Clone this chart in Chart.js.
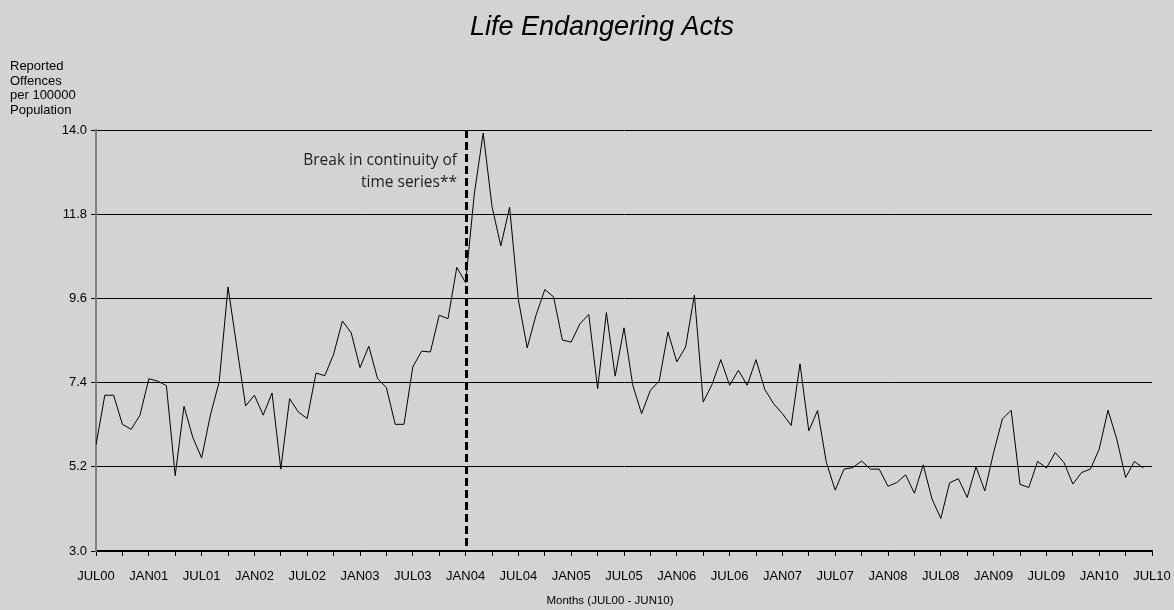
<!DOCTYPE html>
<html>
<head>
<meta charset="utf-8">
<title>Life Endangering Acts</title>
<script src="https://cdn.jsdelivr.net/npm/chart.js@4/dist/chart.umd.min.js"></script>
<style>
  html, body { margin: 0; padding: 0; background: #d3d3d3; }
  #wrap { width: 1174px; height: 610px; }
</style>
</head>
<body>
<div id="wrap"><canvas id="lifeChart" width="1174" height="610"></canvas></div>
<script>
// monthly rates, JUL00 .. JUN10
const rates = [
  5.77, 7.07, 7.07, 6.31, 6.18, 6.55, 7.50, 7.44, 7.32, 4.97, 6.78, 5.97,
  5.43, 6.55, 7.42, 9.90, 8.33, 6.79, 7.07, 6.55, 7.13, 5.14, 6.98, 6.63,
  6.46, 7.65, 7.58, 8.14, 9.01, 8.70, 7.79, 8.35, 7.50, 7.27, 6.31, 6.31,
  7.81, 8.22, 8.20, 9.16, 9.07, 10.41, 10.01, 12.35, 13.92, 12.00, 10.97, 11.98,
  9.56, 8.31, 9.16, 9.83, 9.64, 8.51, 8.46, 8.94, 9.18, 7.24, 9.23, 7.57,
  8.83, 7.33, 6.59, 7.20, 7.44, 8.72, 7.94, 8.33, 9.69, 6.89, 7.35, 8.00,
  7.33, 7.72, 7.33, 8.00, 7.22, 6.85, 6.59, 6.28, 7.89, 6.14, 6.67, 5.31,
  4.59, 5.14, 5.18, 5.35, 5.14, 5.14, 4.69, 4.79, 4.99, 4.51, 5.25, 4.36,
  3.85, 4.78, 4.89, 4.40, 5.20, 4.57, 5.57, 6.45, 6.68, 4.74, 4.66, 5.34,
  5.17, 5.57, 5.31, 4.75, 5.05, 5.14, 5.66, 6.68, 5.92, 4.92, 5.34, 5.17
];
const tickLabels = ['JUL00','JAN01','JUL01','JAN02','JUL02','JAN03','JUL03','JAN04','JUL04','JAN05','JUL05',
  'JAN06','JUL06','JAN07','JUL07','JAN08','JUL08','JAN09','JUL09','JAN10','JUL10'];
const yTicks = [3.0, 5.2, 7.4, 9.6, 11.8, 14.0];
const breakMonth = 42; // JAN04

const FONT = "'Liberation Sans', Arial, sans-serif";

const textPlugin = {
  id: 'extras',
  beforeDraw(chart) {
    const c = chart.ctx;
    c.save();
    c.fillStyle = '#d3d3d3';
    c.fillRect(0, 0, chart.width, chart.height);
    c.restore();
  },
  afterDraw(chart) {
    const c = chart.ctx;
    const x = chart.scales.x, area = chart.chartArea;
    c.save();
    // break line
    const bx = Math.round(x.getPixelForValue(breakMonth)) + 0.5;
    c.strokeStyle = '#000';
    c.lineWidth = 3;
    c.setLineDash([8, 4]);
    c.beginPath();
    c.moveTo(bx, area.top);
    c.lineTo(bx, area.bottom);
    c.stroke();
    c.setLineDash([]);

    c.fillStyle = '#000';
    c.textBaseline = 'middle';
    // title
    c.font = 'italic 27px ' + FONT;
    c.textAlign = 'center';
    c.fillText('Life Endangering Acts', 602, 27);
    // y title
    c.font = '13px ' + FONT;
    c.textAlign = 'left';
    ['Reported', 'Offences', 'per 100000', 'Population'].forEach((s, i) => c.fillText(s, 10, 66.5 + i * 14.5));
    // x title
    c.textAlign = 'center';
    c.font = '11.5px ' + FONT;
    c.fillText('Months (JUL00 - JUN10)', 610, 601);
    // note
    c.textAlign = 'right';
    c.fillStyle = '#222';
    c.font = "15.5px 'Open Sans', 'DejaVu Sans', sans-serif";
    c.fillText('Break in continuity of', 457, 161);
    c.fillText('time series**', 457, 183);
    c.restore();
  }
};

new Chart(document.getElementById('lifeChart'), {
  type: 'line',
  data: {
    datasets: [{
      data: rates.map((v, i) => ({ x: i, y: v })),
      borderColor: '#000',
      borderWidth: 1,
      pointRadius: 0,
      tension: 0,
      fill: false
    }]
  },
  options: {
    responsive: false,
    animation: false,
    events: [],
    layout: { padding: { top: 130, right: 22, left: 0, bottom: 0 } },
    plugins: { legend: { display: false }, tooltip: { enabled: false }, title: { display: false } },
    scales: {
      x: {
        type: 'linear',
        min: 0,
        max: 120,
        afterFit: s => { s.height = 59; s.paddingLeft = 0; s.paddingRight = 0; },
        ticks: {
          stepSize: 3,
          autoSkip: false,
          maxRotation: 0,
          padding: 13,
          color: '#000',
          font: { family: FONT, size: 13 },
          callback: v => (v % 6 === 0 ? tickLabels[v / 6] : '')
        },
        grid: { drawOnChartArea: false, tickLength: 5, tickColor: '#000' },
        border: { color: '#000', width: 1.5 }
      },
      y: {
        min: 3,
        max: 14,
        afterFit: s => { s.width = 96; s.paddingTop = 0; s.paddingBottom = 0; },
        afterBuildTicks: s => { s.ticks = yTicks.map(v => ({ value: v })); },
        ticks: {
          padding: 4,
          color: '#000',
          font: { family: FONT, size: 13 },
          callback: v => v.toFixed(1)
        },
        grid: { color: '#000', lineWidth: 1, tickLength: 5, tickColor: '#000' },
        border: { color: '#808080', width: 2 }
      }
    }
  },
  plugins: [textPlugin]
});
</script>
</body>
</html>
